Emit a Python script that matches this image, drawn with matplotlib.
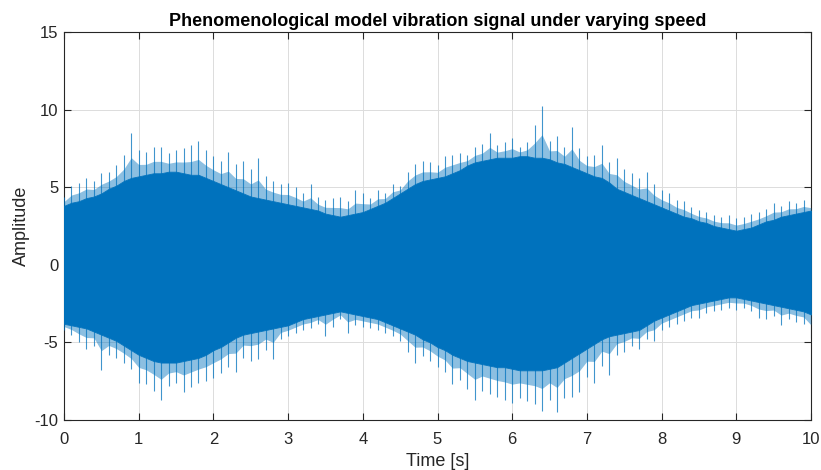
import numpy as np
import matplotlib
matplotlib.use("Agg")
import matplotlib.pyplot as plt

plt.rcParams['font.family'] = ['Liberation Sans', 'DejaVu Sans']
plt.rcParams['axes.unicode_minus'] = False

# time grid of readings (s)
t = np.linspace(0, 10, 101)

# dense core of the signal (upper / lower edge)
upper_core = [3.8, 4.0, 4.1, 4.3, 4.4, 4.6, 4.9, 5.1, 5.4, 5.6,
              5.7, 5.8, 5.9, 5.9, 6.0, 6.0, 5.9, 5.8, 5.8, 5.6,
              5.4, 5.2, 5.0, 4.8, 4.6, 4.4, 4.3, 4.2, 4.1, 4.0,
              3.9, 3.8, 3.7, 3.6, 3.5, 3.3, 3.2, 3.1, 3.2, 3.3,
              3.4, 3.6, 3.8, 4.0, 4.3, 4.6, 4.9, 5.2, 5.4, 5.5,
              5.6, 5.7, 5.9, 6.1, 6.4, 6.6, 6.7, 6.8, 6.9, 6.9,
              6.9, 7.0, 7.0, 6.9, 6.9, 6.8, 6.6, 6.5, 6.3, 6.1,
              5.9, 5.7, 5.6, 5.3, 4.9, 4.7, 4.5, 4.3, 4.1, 3.9,
              3.7, 3.5, 3.3, 3.1, 3.0, 2.8, 2.7, 2.5, 2.4, 2.3,
              2.2, 2.3, 2.4, 2.6, 2.8, 2.9, 3.1, 3.2, 3.3, 3.4, 3.5]
lower_core = [-3.8, -3.9, -4.0, -4.1, -4.3, -4.5, -4.7, -4.9, -5.2, -5.5,
              -5.8, -6.0, -6.2, -6.3, -6.3, -6.3, -6.2, -6.1, -6.0, -5.8,
              -5.5, -5.3, -5.0, -4.7, -4.5, -4.4, -4.3, -4.2, -4.1, -4.0,
              -3.9, -3.7, -3.5, -3.4, -3.3, -3.2, -3.1, -3.0, -3.1, -3.2,
              -3.3, -3.4, -3.5, -3.7, -3.9, -4.1, -4.3, -4.5, -4.8, -5.0,
              -5.3, -5.5, -5.8, -6.0, -6.2, -6.3, -6.4, -6.5, -6.6, -6.6,
              -6.7, -6.8, -6.8, -6.8, -6.8, -6.7, -6.6, -6.3, -6.0, -5.7,
              -5.4, -5.1, -4.8, -4.6, -4.5, -4.4, -4.3, -4.2, -3.9, -3.6,
              -3.4, -3.2, -3.0, -2.8, -2.6, -2.5, -2.4, -2.3, -2.2, -2.1,
              -2.1, -2.2, -2.3, -2.4, -2.5, -2.6, -2.7, -2.8, -2.9, -3.0, -3.2]

# spike tips (largest excursions) per reading
upper_tip = [4.4, 5.1, 5.3, 5.6, 5.4, 5.9, 6.0, 6.4, 7.1, 8.5,
             7.4, 7.3, 7.6, 7.6, 7.2, 7.4, 7.5, 7.7, 8.0, 7.4,
             7.0, 6.7, 7.3, 6.5, 6.7, 6.2, 6.9, 5.7, 5.4, 5.2,
             5.3, 5.0, 4.6, 5.2, 4.4, 4.2, 4.3, 4.4, 4.1, 4.8,
             4.6, 4.3, 4.8, 4.6, 5.2, 5.1, 6.0, 6.5, 6.7, 6.6,
             6.4, 7.0, 7.1, 7.2, 7.1, 7.6, 7.8, 8.5, 7.7, 7.9,
             8.2, 7.6, 7.9, 9.0, 10.2, 8.0, 8.3, 7.6, 8.9, 7.5,
             7.0, 7.1, 7.7, 6.6, 6.9, 6.2, 5.9, 5.6, 6.0, 5.2,
             4.8, 4.6, 4.2, 4.1, 3.7, 3.5, 3.4, 3.2, 3.1, 3.2,
             3.0, 3.1, 3.3, 3.4, 3.6, 4.0, 3.8, 4.1, 4.0, 4.2, 3.9]
lower_tip = [-4.2, -4.5, -5.0, -5.4, -5.2, -6.8, -5.8, -6.0, -6.3, -6.7,
             -7.6, -7.7, -8.1, -8.7, -7.8, -7.6, -8.2, -7.9, -7.6, -7.5,
             -7.3, -7.0, -6.6, -6.9, -6.0, -6.2, -6.1, -5.5, -6.1, -4.8,
             -4.6, -4.4, -4.2, -4.1, -3.8, -4.6, -4.0, -3.5, -4.4, -3.9,
             -4.0, -4.1, -4.2, -4.4, -4.6, -4.9, -5.6, -6.3, -5.9, -6.2,
             -6.6, -6.9, -7.7, -7.4, -8.0, -8.7, -8.1, -8.3, -8.5, -8.7,
             -8.9, -8.6, -8.8, -9.0, -9.4, -8.7, -9.5, -8.6, -8.5, -8.2,
             -7.2, -7.6, -6.5, -7.1, -5.8, -5.6, -5.2, -5.4, -4.8, -4.9,
             -4.2, -4.0, -3.8, -3.6, -3.4, -3.4, -3.1, -3.0, -2.9, -2.8,
             -2.9, -2.8, -3.0, -3.4, -3.5, -3.3, -3.9, -3.5, -3.7, -3.8, -4.7]

x_ticks = [0, 1, 2, 3, 4, 5, 6, 7, 8, 9, 10]
y_ticks = [-10, -5, 0, 5, 10, 15]

blue = '#0072BD'
dark = '#262626'

fig = plt.figure(figsize=(8.21, 4.70), dpi=100)
ax = fig.add_axes([64 / 821, 50 / 470, 747 / 821, 388 / 470])

uc = np.array(upper_core)
lc = np.array(lower_core)
ut = np.array(upper_tip)
lt = np.array(lower_tip)

# fringe of dense spikes between the core and the tips (lighter)
ax.fill_between(t, uc, uc + 0.45 * (ut - uc), color=blue, alpha=0.45, linewidth=0, zorder=3)
ax.fill_between(t, lc + 0.45 * (lt - lc), lc, color=blue, alpha=0.45, linewidth=0, zorder=3)
# solid core
ax.fill_between(t, lc, uc, color=blue, linewidth=0.6, edgecolor=blue, zorder=4)
# individual spike tips
ax.vlines(t, 0, ut, color=blue, linewidth=0.8, alpha=0.75, zorder=3)
ax.vlines(t, lt, 0, color=blue, linewidth=0.8, alpha=0.75, zorder=3)

ax.set_xlim(0, 10)
ax.set_ylim(-10, 15)
ax.set_xticks(x_ticks)
ax.set_yticks(y_ticks)
ax.grid(True, color='#dcdcdc', linewidth=0.7, zorder=0)
ax.set_axisbelow(True)
ax.tick_params(direction='in', length=5, width=0.8, colors=dark, labelsize=12,
               top=True, right=True, labelcolor=dark)
ax.tick_params(axis='x', pad=9)
ax.tick_params(axis='y', pad=4)
for s in ax.spines.values():
    s.set_color(dark)
    s.set_linewidth(0.8)

ax.set_title('Phenomenological model vibration signal under varying speed',
             fontsize=13, fontweight='bold', color='black', pad=4)
ax.set_xlabel('Time [s]', fontsize=13, color=dark, labelpad=4)
ax.set_ylabel('Amplitude', fontsize=13, color=dark, labelpad=3)

fig.savefig('out.png', dpi=100)
